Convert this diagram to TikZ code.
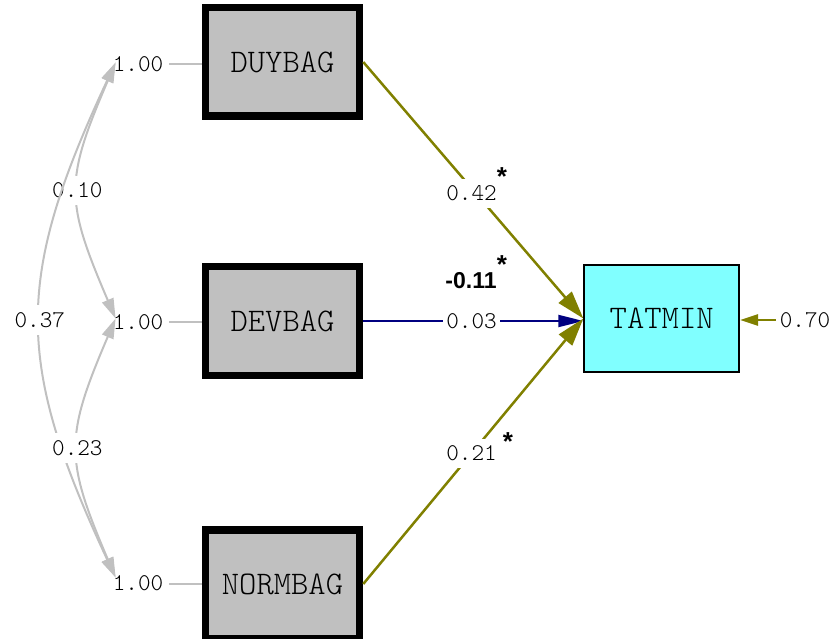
\documentclass[tikz,border=0pt]{standalone}
\usepackage{fontspec}
\newfontfamily\labelsans{Liberation Sans}
\newfontfamily\lightmono{Latin Modern Mono Light}
\usetikzlibrary{arrows.meta}
\definecolor{boxgray}{HTML}{C0C0C0}
\definecolor{linegray}{HTML}{C0C0C0}
\definecolor{endocyan}{HTML}{80FFFF}
\definecolor{patholive}{HTML}{808000}
\definecolor{pathnavy}{HTML}{000080}
\tikzset{
  varbox/.style={draw=black, line width=7.5pt, fill=boxgray,
    minimum width=154pt, minimum height=108.5pt,
    font=\fontsize{33}{33}\selectfont\lightmono},
  endobox/.style={draw=black, line width=2pt, fill=endocyan,
    minimum width=154.7pt, minimum height=107pt,
    font=\fontsize{33}{33}\selectfont\lightmono},
  varlabel/.style={inner sep=0pt, font=\fontsize{24}{24}\selectfont\lightmono},
  coef/.style={fill=white, inner xsep=3pt, inner ysep=7pt,
    font=\fontsize{24}{24}\selectfont\lightmono},
  boldcoef/.style={inner sep=0pt, font=\fontsize{23}{23}\selectfont\labelsans\bfseries},
  sigstar/.style={inner sep=0pt, font=\fontsize{26}{26}\selectfont\labelsans\bfseries},
  tieline/.style={draw=linegray, line width=2pt},
  cov/.style={draw=linegray, line width=2pt,
    {Triangle[length=20pt, width=12pt]}-{Triangle[length=20pt, width=12pt]}},
  olivepath/.style={draw=patholive, line width=2.5pt,
    -{Triangle[length=28pt, width=17pt]}},
  navypath/.style={draw=pathnavy, line width=2pt,
    -{Triangle[length=25pt, width=12pt]}},
  errpath/.style={draw=patholive, line width=2.5pt,
    -{Triangle[length=18pt, width=11pt]}}
}
\begin{document}
\begin{tikzpicture}[x=1pt, y=-1pt]
\useasboundingbox (0,0) rectangle (836,639);

% observed variables
\node[varbox] (duy)  at (282.5, 62)  {DUYBAG};
\node[varbox] (dev)  at (282.5, 321) {DEVBAG};
\node[varbox] (norm) at (282.5, 584) {NORMBAG};
\node[endobox] (tat) at (661.7, 318.5) {TATMIN};

% variances of the exogenous variables
\node[varlabel] (e1) at (138, 64.5)  {1.00};
\node[varlabel] (e2) at (138, 322.5) {1.00};
\node[varlabel] (e3) at (138, 583.5) {1.00};
\draw[tieline] ([xshift=6pt]e1.east) -- (e1.east -| duy.west);
\draw[tieline] ([xshift=6pt]e2.east) -- (e2.east -| dev.west);
\draw[tieline] ([xshift=6pt]e3.east) -- (e3.east -| norm.west);

% arrow tips of the covariance curves
\coordinate (t1) at ([shift={(3,-2)}]e1.west);
\coordinate (t2) at ([shift={(3,-4)}]e2.west);
\coordinate (t3) at ([shift={(3,-6)}]e3.west);

% covariances
\draw[cov] (t1) .. controls +(-51,119) and +(-51,-119) .. node[coef]{0.10} (t2);
\draw[cov] (t1) .. controls +(-101,216) and +(-101,-216) .. node[coef]{0.37} (t3);
\draw[cov] (t2) .. controls +(-51,119) and +(-51,-119) .. node[coef]{0.23} (t3);

% structural paths
\draw[olivepath] (duy.east) -- (tat.west);
\draw[navypath] (dev.east) -- (dev.east -| tat.west);
\draw[olivepath] (norm.east) -- (tat.west);

\node[coef] (c1) at (471.5, 193.5) {0.42};
\node[sigstar] (s1) at (502, 177) {*};
\node[boldcoef] (c2b) at (471, 280.5) {-0.11};
\node[sigstar] (s2) at (502, 265) {*};
\node[coef] (c2) at (471.5, 321) {0.03};
\node[coef] (c3) at (471.5, 453.5) {0.21};
\node[sigstar] (s3) at (508, 442) {*};

% error variance
\node[varlabel] (err) at (805, 320) {0.70};
\draw[errpath] ([xshift=-4pt]err.west) -- (err.west -| tat.east);
\end{tikzpicture}
\end{document}
